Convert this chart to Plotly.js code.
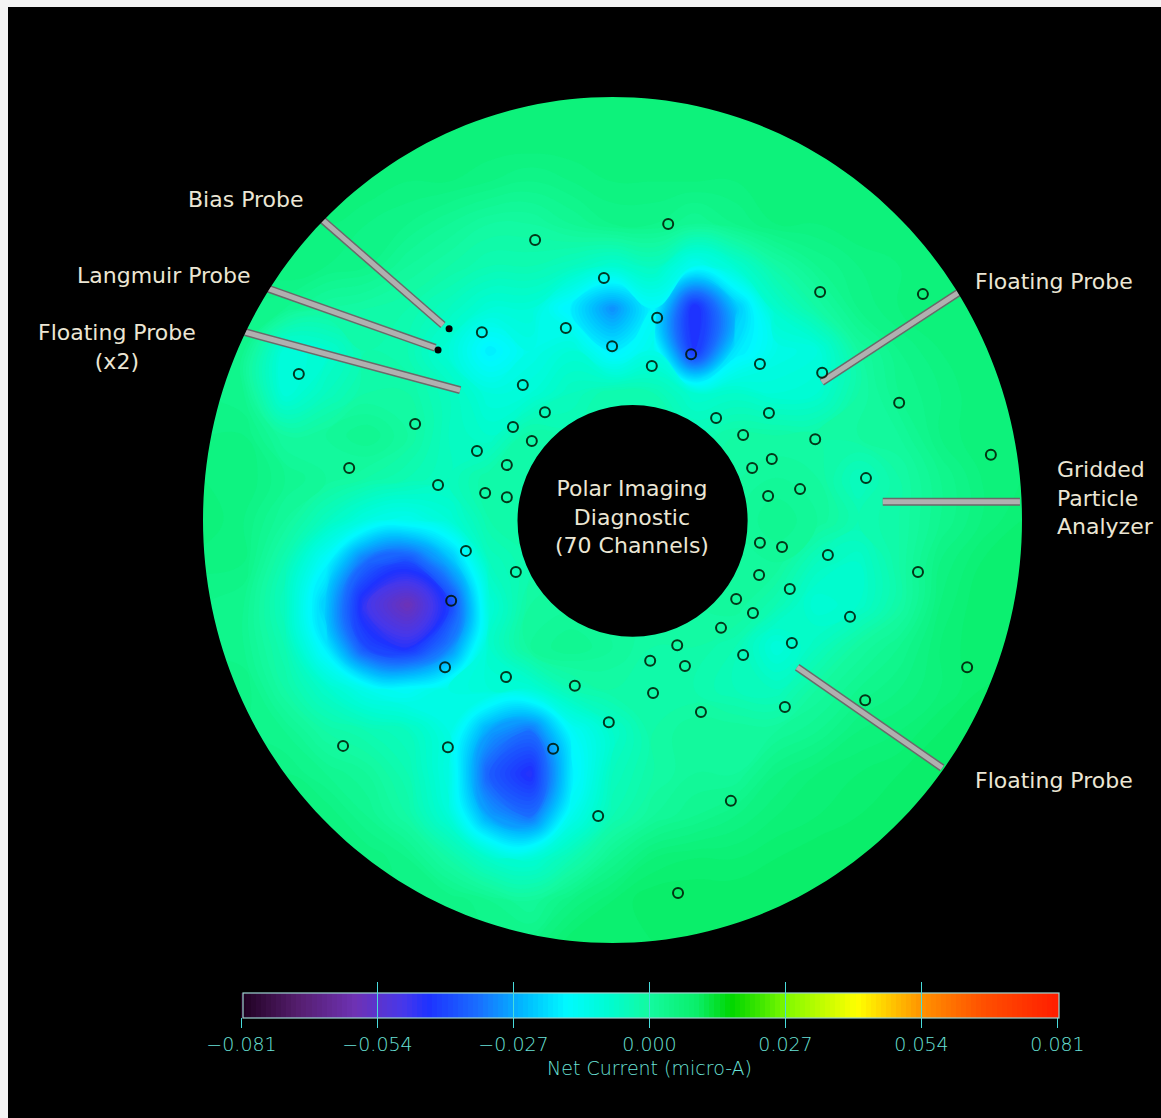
<!DOCTYPE html>
<html>
<head>
<meta charset="utf-8">
<script src="https://cdn.plot.ly/plotly-3.0.1.min.js"></script>
<style>
  html, body { margin: 0; padding: 0; background: #000; }
  #chart { width: 1161px; height: 1118px; }
</style>
</head>
<body>
<div id="chart"></div>
<script>
// ---------------------------------------------------------------------------
// Net current map over the vessel cross-section.
// Coordinates are normalised to the vessel radius (wall at r = 1).
// ---------------------------------------------------------------------------
const N = null;

// Map grid (x left -> right, rows listed top -> bottom)
const gridX = [-1.0, -0.9, -0.8, -0.7, -0.6, -0.5, -0.4, -0.3, -0.2, -0.1, 0.0,
                0.1,  0.2,  0.3,  0.4,  0.5,  0.6,  0.7,  0.8,  0.9, 1.0];
const gridYTopDown = [1.0, 0.9, 0.8, 0.7, 0.6, 0.5, 0.4, 0.3, 0.2, 0.1, 0.0,
                      -0.1, -0.2, -0.3, -0.4, -0.5, -0.6, -0.7, -0.8, -0.9, -1.0];

// Net current (micro-A); null = outside the vessel or inside the central port
const netCurrentTopDown = [
  [N,N,N,N,N,N,N,N,N,.007,.007,.007,N,N,N,N,N,N,N,N,N],
  [N,N,N,N,N,N,.007,.007,.007,.007,.007,.007,.007,.007,.007,N,N,N,N,N,N],
  [N,N,N,N,.007,.006,.006,.005,.004,.005,.006,.006,.006,.006,.007,.007,.007,N,N,N,N],
  [N,N,N,.006,.005,.004,.002,.000,.000,.002,.004,.004,.002,.004,.006,.006,.007,.007,N,N,N],
  [N,N,.006,.005,.004,.001,-.001,-.003,-.003,-.005,-.008,-.005,-.014,-.008,-.001,.003,.005,.006,.007,N,N],
  [N,N,.003,.000,-.001,-.002,-.005,-.009,-.009,-.018,-.030,-.016,-.046,-.024,-.007,-.001,.004,.006,.007,N,N],
  [N,.003,-.010,-.008,-.002,-.003,-.009,-.018,-.012,-.009,-.018,-.012,-.044,-.019,-.012,-.010,.000,.004,.006,.007,N],
  [N,.003,-.010,-.005,-.001,-.001,-.005,-.010,-.009,-.005,-.002,-.003,-.008,-.007,-.009,-.008,-.001,.003,.005,.007,N],
  [N,.005,.000,.001,.003,.000,-.005,-.007,-.001,N,N,N,N,-.001,-.001,-.001,.000,.001,.005,.007,N],
  [N,.006,.003,.001,-.001,-.003,-.005,-.001,N,N,N,N,N,N,.001,.000,-.005,-.001,.003,.006,N],
  [.007,.005,.001,-.005,-.011,-.013,-.009,-.002,N,N,N,N,N,N,.003,.001,-.003,-.001,.003,.006,.008],
  [N,.005,-.003,-.016,-.035,-.040,-.026,-.005,N,N,N,N,N,N,.001,-.005,-.007,-.001,.005,.008,N],
  [N,.003,-.005,-.023,-.048,-.058,-.042,-.009,.000,N,N,N,N,.001,-.003,-.009,-.007,-.001,.006,.009,N],
  [N,.003,-.003,-.018,-.040,-.045,-.032,-.007,.001,.003,.001,-.001,-.001,-.003,-.010,-.005,.000,.003,.007,.009,N],
  [N,.005,-.001,-.007,-.013,-.015,-.011,-.009,-.009,-.003,-.001,-.001,-.002,-.004,-.005,.000,.003,.005,.007,.009,N],
  [N,N,.003,-.001,-.003,-.005,-.011,-.028,-.034,-.015,-.007,-.001,.001,.001,.001,.003,.006,.007,.009,N,N],
  [N,N,.005,.003,.001,-.003,-.011,-.037,-.045,-.018,-.005,-.001,.001,.001,.005,.007,.008,.009,.010,N,N],
  [N,N,N,.006,.003,-.001,-.009,-.028,-.034,-.013,-.003,.001,.003,.005,.007,.008,.009,.010,N,N,N],
  [N,N,N,N,.006,.004,-.001,-.007,-.009,-.003,.003,.007,.008,.008,.009,.010,.010,N,N,N,N],
  [N,N,N,N,N,N,.005,.003,.001,.005,.008,.010,.010,.010,.010,N,N,N,N,N,N],
  [N,N,N,N,N,N,N,N,N,.009,.009,.009,N,N,N,N,N,N,N,N,N]
];

// Imaging diagnostic channel positions
const channelX = [-0.189, 0.136,-0.021, 0.507, 0.758,-0.319,-0.114, 0.109,-0.001, 0.192,
                   0.096, 0.360, 0.512,-0.766,-0.219,-0.165,-0.482,-0.243,-0.197, 0.253,
                   0.382, 0.319, 0.495, 0.700,-0.331,-0.258,-0.643,-0.426,-0.311,-0.258,
                   0.341, 0.389, 0.619, 0.924, 0.380, 0.458,-0.358,-0.236, 0.360, 0.414,
                   0.526,-0.394, 0.358, 0.433, 0.746, 0.302, 0.343, 0.580, 0.265, 0.158,
                   0.319, 0.438, 0.092, 0.177,-0.409,-0.092, 0.099, 0.866, 0.617,-0.009,
                   0.216, 0.421,-0.658,-0.402,-0.145, 0.289,-0.035, 0.160,-0.260];
const channelY = [ 0.662, 0.700, 0.572, 0.539, 0.534, 0.444, 0.454, 0.478, 0.411, 0.392,
                   0.364, 0.369, 0.348, 0.345, 0.319, 0.255, 0.227, 0.220, 0.187, 0.241,
                   0.253, 0.201, 0.191, 0.277, 0.163, 0.130, 0.123, 0.083, 0.064, 0.054,
                   0.123, 0.144, 0.099, 0.154, 0.057, 0.073,-0.073,-0.123,-0.054,-0.064,
                  -0.083,-0.191,-0.130,-0.163,-0.123,-0.187,-0.220,-0.229,-0.255,-0.296,
                  -0.319,-0.291,-0.333,-0.345,-0.348,-0.392,-0.409,-0.348,-0.426,-0.478,
                  -0.454,-0.442,-0.534,-0.537,-0.541,-0.664,-0.700,-0.882,-0.371];

// Probes inserted through the wall: base at the wall, tip inside the plasma
const probeNames = ['Bias Probe', 'Langmuir Probe', 'Floating Probe (x2)',
                    'Floating Probe', 'Gridded Particle Analyzer', 'Floating Probe'];
const probeBaseX = [-0.714, -0.844, -0.897, 0.844, 0.995,  0.805];
const probeBaseY = [ 0.714,  0.548,  0.444, 0.537, 0.043, -0.586];
const probeTipX  = [-0.414, -0.433, -0.372, 0.511, 0.660,  0.451];
const probeTipY  = [ 0.461,  0.407,  0.307, 0.326, 0.043, -0.348];

// Collector heads on the bias and Langmuir probes
const headX = [-0.399, -0.426];
const headY = [ 0.452,  0.402];

// Colour bar ticks (micro-A)
const colorbarTicks = [-0.081, -0.054, -0.027, 0.000, 0.027, 0.054, 0.081];

// ---------------------------------------------------------------------------
const DISK_R = 1.0;
const PORT = { cx: 0.049, cy: -0.002, rx: 0.281, ry: 0.274 };
const ZMIN = -0.081, ZMAX = 0.081;

const rainbow = [
  [0.000, 'rgb(30,0,30)'],
  [0.070, 'rgb(85,30,110)'],
  [0.140, 'rgb(110,50,180)'],
  [0.200, 'rgb(70,55,235)'],
  [0.230, 'rgb(30,50,255)'],
  [0.290, 'rgb(25,110,255)'],
  [0.350, 'rgb(0,190,255)'],
  [0.400, 'rgb(0,250,255)'],
  [0.450, 'rgb(0,252,210)'],
  [0.500, 'rgb(20,250,160)'],
  [0.560, 'rgb(10,238,105)'],
  [0.600, 'rgb(0,214,0)'],
  [0.635, 'rgb(60,230,0)'],
  [0.670, 'rgb(130,250,0)'],
  [0.755, 'rgb(255,255,0)'],
  [0.835, 'rgb(255,145,0)'],
  [0.910, 'rgb(255,80,0)'],
  [1.000, 'rgb(255,30,0)']
];

const gridY = gridYTopDown.slice().reverse();
const netCurrent = netCurrentTopDown.slice().reverse();

const W = 1161, H = 1118;
const CB_LEFT = 242, CB_RIGHT = 1058, CB_TOP = 993, CB_THICK = 25;
const cbColor = '#6ae2d8';
const cbCommon = {
  orientation: 'h',
  xref: 'container', yref: 'container',
  x: ((CB_LEFT + CB_RIGHT) / 2 + 4) / W, xanchor: 'center',
  y: 1 - CB_TOP / H, yanchor: 'top',
  len: CB_RIGHT - CB_LEFT, lenmode: 'pixels',
  thickness: CB_THICK, thicknessmode: 'pixels',
  xpad: 0, ypad: 0,
  bgcolor: 'rgba(0,0,0,0)',
  tickmode: 'array', tickvals: colorbarTicks,
  tickcolor: '#48dcdc', tickwidth: 1.2
};

const field = {
  type: 'contour',
  x: gridX, y: gridY, z: netCurrent,
  connectgaps: true,
  zauto: false, zmin: ZMIN, zmax: ZMAX, colorscale: rainbow,
  autocontour: false,
  contours: { coloring: 'fill', start: ZMIN, end: ZMAX, size: 0.001, showlines: false },
  line: { width: 0, smoothing: 1.3 },
  hoverinfo: 'skip',
  colorbar: Object.assign({}, cbCommon, {
    outlinewidth: 1.2, outlinecolor: '#9fd6d2',
    ticks: 'outside', ticklen: 10, tickformat: '.3f',
    tickfont: { family: 'DejaVu Sans', size: 19, color: cbColor, weight: 200 },
    title: { text: 'Net Current (micro-A)', side: 'bottom',
             font: { family: 'DejaVu Sans', size: 19, color: cbColor, weight: 200 } }
  })
};

// Second scale carrying the tick marks that cross the bar
const tickOverlay = {
  type: 'scatter', mode: 'markers', x: [null], y: [null],
  hoverinfo: 'skip', showlegend: false,
  marker: {
    color: [null], cmin: ZMIN, cmax: ZMAX, showscale: true,
    colorscale: [[0, 'rgba(0,0,0,0)'], [1, 'rgba(0,0,0,0)']],
    colorbar: Object.assign({}, cbCommon, {
      outlinewidth: 0, ticks: 'inside', ticklen: 36, showticklabels: false
    })
  }
};

const rodX = [], rodY = [];
probeBaseX.forEach((bx, i) => {
  rodX.push(bx, probeTipX[i], null);
  rodY.push(probeBaseY[i], probeTipY[i], null);
});

const rodEdge = { type: 'scatter', mode: 'lines', x: rodX, y: rodY,
  line: { color: '#6a6a6a', width: 8 }, hoverinfo: 'skip', showlegend: false };
const rodBody = { type: 'scatter', mode: 'lines', x: rodX, y: rodY,
  line: { color: '#b0b0b0', width: 5 }, hoverinfo: 'skip', showlegend: false };
const heads = { type: 'scatter', mode: 'markers', x: headX, y: headY,
  marker: { color: '#000', size: 7 }, hoverinfo: 'skip', showlegend: false };

const channels = {
  type: 'scatter', mode: 'markers', x: channelX, y: channelY,
  marker: { symbol: 'circle-open', size: 10, color: 'rgba(0,20,0,0.85)', line: { width: 2 } },
  hoverinfo: 'skip', showlegend: false
};

// Black surround outside the vessel wall (rectangle with a round hole)
function wallMaskPath() {
  let p = 'M -5,-5 L 5,-5 L 5,5 L -5,5 Z ';
  const n = 240;
  for (let k = 0; k <= n; k++) {
    const t = 2 * Math.PI * k / n;
    p += (k === 0 ? 'M ' : 'L ') + (DISK_R * Math.cos(t)).toFixed(5) + ',' + (DISK_R * Math.sin(t)).toFixed(5) + ' ';
  }
  return p + 'Z';
}

const shapes = [
  { type: 'path', xref: 'x', yref: 'y', path: wallMaskPath(), fillrule: 'evenodd',
    fillcolor: '#000', line: { width: 0 }, layer: 'above' },
  { type: 'circle', xref: 'x', yref: 'y',
    x0: PORT.cx - PORT.rx, x1: PORT.cx + PORT.rx,
    y0: PORT.cy - PORT.ry, y1: PORT.cy + PORT.ry,
    fillcolor: '#000', line: { width: 0 }, layer: 'above' }
];

const labelFont = { family: 'DejaVu Sans', size: 22, color: '#ebe6d4' };
const ann = (text, x, y, xanchor, align) => ({
  text, x, y, xref: 'x', yref: 'y', xanchor, yanchor: 'middle',
  align: align || 'center', showarrow: false, font: labelFont
});

const annotations = [
  ann('Bias Probe', -0.748, 0.757, 'right'),
  ann('Langmuir Probe', -0.878, 0.579, 'right'),
  ann('Floating Probe<br>(x2)', -1.210, 0.408, 'center'),
  ann('Floating Probe', 0.880, 0.565, 'left'),
  ann('Gridded<br>Particle<br>Analyzer', 1.081, 0.052, 'left', 'left'),
  ann('Floating Probe', 0.880, -0.615, 'left'),
  ann('Polar Imaging<br>Diagnostic<br>(70 Channels)', 0.048, 0.007, 'center')
];

// pixel frame: plot area starts 8 px from the left and 7 px from the top
const ML = 8, MT = 7, CX = 612.5, CY = 520, RX = 409.5, RY = 423;
const layout = {
  width: W, height: H,
  margin: { l: ML, t: MT, r: 0, b: 0, pad: 0, autoexpand: false },
  paper_bgcolor: '#f4f4f4',
  plot_bgcolor: '#000',
  showlegend: false,
  xaxis: { range: [(ML - CX) / RX, (W - CX) / RX], visible: false, fixedrange: true },
  yaxis: { range: [(CY - H) / RY, (CY - MT) / RY], visible: false, fixedrange: true },
  shapes, annotations
};

Plotly.newPlot('chart', [field, rodEdge, rodBody, heads, channels, tickOverlay], layout,
  { staticPlot: true, displayModeBar: false });
</script>
</body>
</html>
